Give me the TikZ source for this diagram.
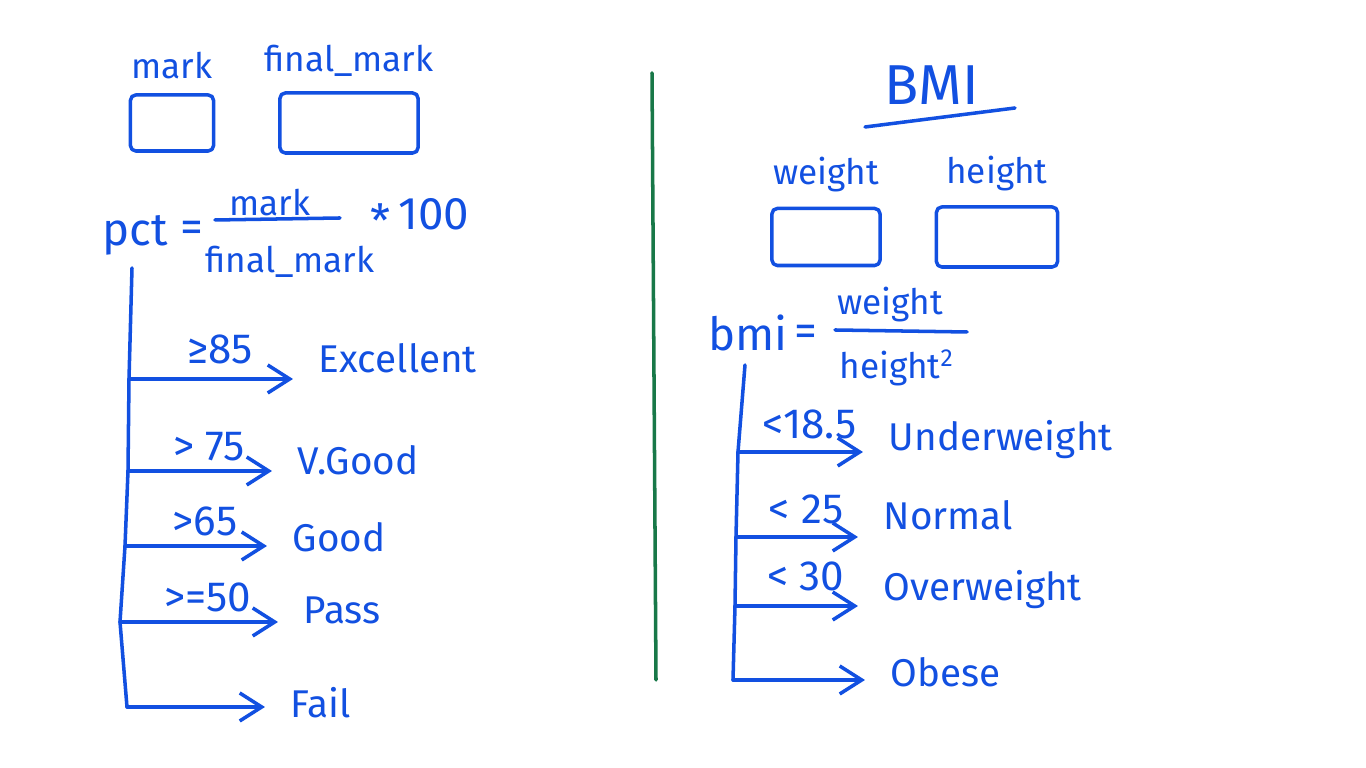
\documentclass[tikz,border=0pt]{standalone}
\usepackage{fontspec}
\setmainfont{Fira Sans}
\usepackage{tikz}
\usetikzlibrary{arrows.meta, positioning, calc}
\definecolor{inkBlue}{RGB}{18,80,225}
\definecolor{inkGreen}{RGB}{24,120,72}
\tikzset{
  inkLine/.style={draw=inkBlue, line width=1pt, line cap=round, line join=round},
  inkFlow/.style={inkLine, -{Straight Barb[length=2.2mm,width=2.8mm]}, shorten >=1.8mm},
  varBox/.style={inkLine, rounded corners=1.5pt, inner sep=0pt},
  varLabel/.style={text=inkBlue, font=\fontsize{10}{12}\selectfont, inner sep=1pt},
  eqText/.style={text=inkBlue, font=\fontsize{13}{15}\selectfont, inner sep=1pt},
  condText/.style={text=inkBlue, font=\fontsize{12}{14}\selectfont, inner sep=1pt},
  gradeText/.style={text=inkBlue, font=\fontsize{11}{13}\selectfont, inner sep=2pt, anchor=west},
  titleText/.style={text=inkBlue, font=\fontsize{16}{19}\selectfont, inner sep=1pt},
  dividerLine/.style={draw=inkGreen, line width=1pt, line cap=round}
}

\begin{document}
\begin{tikzpicture}[x=0.01cm, y=-0.01cm]
  \useasboundingbox (0,0) rectangle (1366,768);

  % percentage inputs
  \node[varBox, minimum width=0.83cm, minimum height=0.56cm] (markBox) at (172,123) {};
  \node[varLabel, above=1mm of markBox] (markLbl) {mark};
  \node[varBox, minimum width=1.38cm, minimum height=0.6cm] (finalBox) at (349,123) {};
  \node[varLabel, above=1mm of finalBox] (finalLbl) {final\_mark};

  % pct formula
  \node[eqText] (pct) at (135,235) {pct};
  \node[eqText] (pctEq) at (192,232) {=};
  \coordinate (pctBarL) at (215,220);
  \coordinate (pctBarR) at (340,218);
  \draw[inkLine] (pctBarL) -- (pctBarR);
  \node[varLabel] (pctNum) at (270,203) {mark};
  \node[varLabel] (pctDen) at (290,262) {final\_mark};
  \node[eqText] (pctMul) at (420,218) {\raisebox{-.35ex}{*}\,100};

  % grades
  \node[gradeText] (excellent) at (311,358) {Excellent};
  \node[gradeText] (vgood) at (290,460) {V.Good};
  \node[gradeText] (good) at (285,537) {Good};
  \node[gradeText] (pass) at (296,610) {Pass};
  \node[gradeText] (fail) at (283,703) {Fail};

  \coordinate (lTop) at (132,268);
  \coordinate (lc1) at (129,379);
  \coordinate (lc2) at (128,471);
  \coordinate (lc3) at (125,546);
  \coordinate (lc4) at (120,622);
  \coordinate (lc5) at (127,707);
  \draw[inkLine] (lTop) -- (lc1) -- (lc2) -- (lc3) -- (lc4) -- (lc5);

  \draw[inkFlow] (lc1) -- (lc1 -| excellent.west) node[condText, midway, above=1mm] {≥85};
  \draw[inkFlow] (lc2) -- (lc2 -| vgood.west) node[condText, midway, above=0.5mm] {> 75};
  \draw[inkFlow] (lc3) -- (lc3 -| good.west) node[condText, midway, above=0.5mm] {>65};
  \draw[inkFlow] (lc4) -- (lc4 -| pass.west) node[condText, midway, above=0.5mm] {>=50};
  \draw[inkFlow] (lc5) -- (lc5 -| fail.west);

  % divider
  \coordinate (divTop) at (652,73);
  \coordinate (divBot) at (656,680);
  \draw[dividerLine] (divTop) -- (divBot);

  % BMI inputs
  \node[titleText] (bmiTitle) at (932,85) {BMI};
  \coordinate (bmiUlL) at (865,127);
  \coordinate (bmiUlR) at (1015,108);
  \draw[inkLine] (bmiUlL) -- (bmiUlR);
  \node[varBox, minimum width=1.08cm, minimum height=0.57cm] (weightBox) at (826,237) {};
  \node[varLabel, above=1mm of weightBox] (weightLbl) {weight};
  \node[varBox, minimum width=1.21cm, minimum height=0.6cm] (heightBox) at (997,237) {};
  \node[varLabel, above=1mm of heightBox] (heightLbl) {height};

  % bmi formula
  \node[eqText] (bmi) at (748,333) {bmi};
  \node[eqText] (bmiEq) at (806,336) {=};
  \coordinate (bmiBarL) at (835,330);
  \coordinate (bmiBarR) at (967,332);
  \draw[inkLine] (bmiBarL) -- (bmiBarR);
  \node[varLabel] (bmiNum) at (890,305) {weight};
  \node[varLabel] (bmiDen) at (897,368) {height\textsuperscript{2}};

  % categories
  \node[gradeText] (under) at (881,440) {Underweight};
  \node[gradeText] (normal) at (876,515) {Normal};
  \node[gradeText] (over) at (876,590) {Overweight};
  \node[gradeText] (obese) at (883,672) {Obese};

  \coordinate (rTop) at (745,365);
  \coordinate (rc1) at (738,452);
  \coordinate (rc2) at (736,537);
  \coordinate (rc3) at (735,606);
  \coordinate (rc4) at (733,680);
  \draw[inkLine] (rTop) -- (rc1) -- (rc2) -- (rc3) -- (rc4);

  \draw[inkFlow] (rc1) -- (rc1 -| under.west) node[condText, midway, above=0.8mm] {<18.5};
  \draw[inkFlow] (rc2) -- (rc2 -| normal.west) node[condText, midway, above=0.8mm] {< 25};
  \draw[inkFlow] (rc3) -- (rc3 -| over.west) node[condText, midway, above=1mm] {< 30};
  \draw[inkFlow] (rc4) -- (rc4 -| obese.west);
\end{tikzpicture}
\end{document}
